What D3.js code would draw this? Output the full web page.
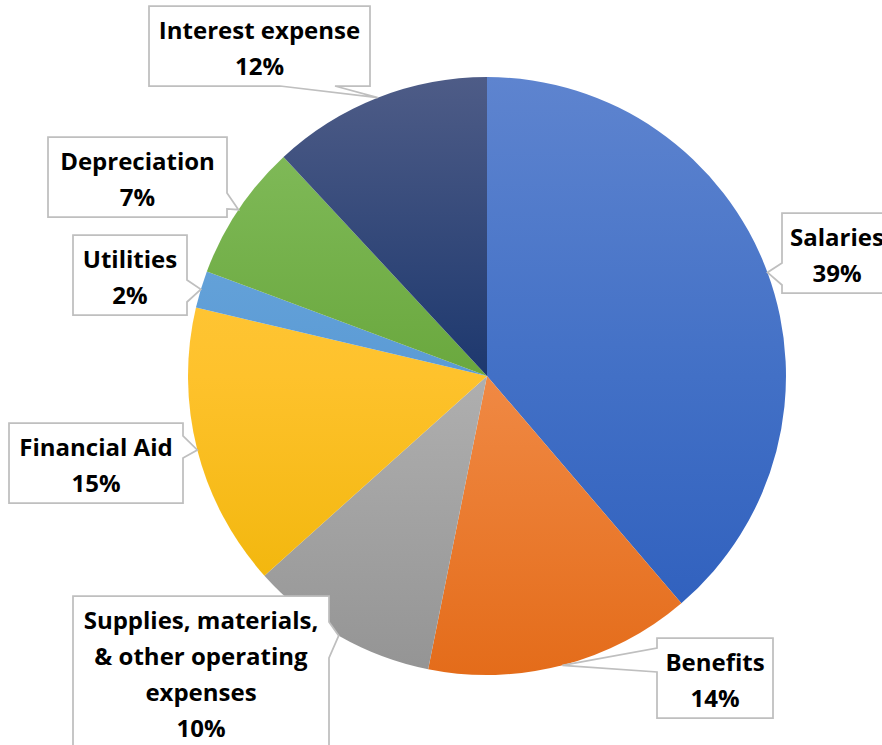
<!DOCTYPE html>
<html>
<head>
<meta charset="utf-8">
<script src="https://cdn.jsdelivr.net/npm/d3@7/dist/d3.min.js"></script>
<style>
  html, body { margin: 0; padding: 0; background: #fff; }
  svg { display: block; }
</style>
</head>
<body>
<div id="chart"></div>
<script>
// chart data (clockwise from 12 o'clock)
var categories = ["Salaries", "Benefits", "Supplies, materials, & other operating expenses",
                  "Financial Aid", "Utilities", "Depreciation", "Interest expense"];
var shares = [38.7, 14.4, 10.2, 15.3, 2.0, 7.4, 11.9];
var labelLines = [["Salaries"], ["Benefits"],
                  ["Supplies, materials,", "& other operating", "expenses"],
                  ["Financial Aid"], ["Utilities"], ["Depreciation"], ["Interest expense"]];

// slice colours: top, middle, bottom of the vertical gradient
var palette = [
  ["#5e84cf", "#4270c6", "#2c5dbc"],
  ["#f59a5a", "#f08944", "#e46c1a"],
  ["#c2c2c2", "#afafaf", "#949494"],
  ["#ffcb4a", "#fec22c", "#edb200"],
  ["#72acdf", "#5b9bd5", "#4a8acb"],
  ["#86bf60", "#6aa83e", "#5a9530"],
  ["#4e5c87", "#1d386e", "#17316a"]
];

// callout boxes: centre x, top y, width, side the pointer leaves from, pointer base range
var calloutLayout = [
  {cx: 837,   top: 213, w: 110, side: "left",   base: [263, 285]},
  {cx: 715,   top: 638, w: 116, side: "left",   base: [648, 672]},
  {cx: 201,   top: 596, w: 256, side: "right",  base: [622, 658]},
  {cx: 96,    top: 423, w: 174, side: "right",  base: [436, 458]},
  {cx: 130,   top: 235, w: 114, side: "right",  base: [280, 302]},
  {cx: 137.5, top: 137, w: 179, side: "right",  base: [193, 209]},
  {cx: 259.5, top: 6,   w: 221, side: "bottom", base: [280, 335]}
];

var WIDTH = 882, HEIGHT = 745;
var CX = 487, CY = 376, RADIUS = 299;
var LINE_H = 36;

var svg = d3.select("#chart").append("svg")
    .attr("width", WIDTH)
    .attr("height", HEIGHT);

var total = d3.sum(shares);
var rows = categories.map(function(c, i) {
    return {name: c, value: shares[i], lines: labelLines[i], idx: i};
});

var pie = d3.pie().sort(null).value(function(d) { return d.value; });
var arc = d3.arc().innerRadius(0).outerRadius(RADIUS);
var arcs = pie(rows);

// gradients, one per slice, running top to bottom of the whole pie
var defs = svg.append("defs");
palette.forEach(function(p, i) {
    var g = defs.append("linearGradient")
        .attr("id", "grad" + i)
        .attr("gradientUnits", "userSpaceOnUse")
        .attr("x1", 0).attr("x2", 0)
        .attr("y1", -RADIUS).attr("y2", RADIUS);
    g.append("stop").attr("offset", "0%").attr("stop-color", p[0]);
    g.append("stop").attr("offset", "50%").attr("stop-color", p[1]);
    g.append("stop").attr("offset", "100%").attr("stop-color", p[2]);
});

var pieGroup = svg.append("g").attr("transform", "translate(" + CX + "," + CY + ")");
pieGroup.selectAll("path.slice")
    .data(arcs)
    .enter().append("path")
    .attr("class", "slice")
    .attr("d", arc)
    .attr("fill", function(d) { return "url(#grad" + d.data.idx + ")"; });

// callout outline: rectangle with a wedge pointing at the slice
function calloutPath(box, side, base, tip) {
    var x0 = box.x, x1 = box.x + box.w, y0 = box.y, y1 = box.y + box.h;
    var pts = [[x0, y0], [x1, y0]];
    if (side == "right") pts.push([x1, base[0]], tip, [x1, base[1]]);
    pts.push([x1, y1]);
    if (side == "bottom") pts.push([base[1], y1], tip, [base[0], y1]);
    pts.push([x0, y1]);
    if (side == "left") pts.push([x0, base[1]], tip, [x0, base[0]]);
    return "M" + pts.map(function(p) { return p[0] + "," + p[1]; }).join("L") + "Z";
}

var labelGroup = svg.append("g");
arcs.forEach(function(a) {
    var lay = calloutLayout[a.data.idx];
    var mid = (a.startAngle + a.endAngle) / 2;
    var tip = [CX + RADIUS * Math.sin(mid), CY - RADIUS * Math.cos(mid)];
    var lines = a.data.lines.concat([Math.round(a.data.value / total * 100) + "%"]);
    var box = {x: lay.cx - lay.w / 2, y: lay.top, w: lay.w, h: lines.length * LINE_H + 8};

    labelGroup.append("path")
        .attr("d", calloutPath(box, lay.side, lay.base, tip))
        .attr("fill", "#fff")
        .attr("stroke", "#bfbfbf")
        .attr("stroke-width", 1.75)
        .attr("stroke-linejoin", "miter");

    var txt = labelGroup.append("text")
        .attr("text-anchor", "middle")
        .attr("font-family", "'Open Sans', sans-serif")
        .attr("font-weight", 700)
        .attr("font-size", "24px")
        .attr("fill", "#000");
    lines.forEach(function(l, k) {
        txt.append("tspan")
            .attr("x", lay.cx)
            .attr("y", box.y + 33 + k * LINE_H)
            .text(l);
    });
});
</script>
</body>
</html>
